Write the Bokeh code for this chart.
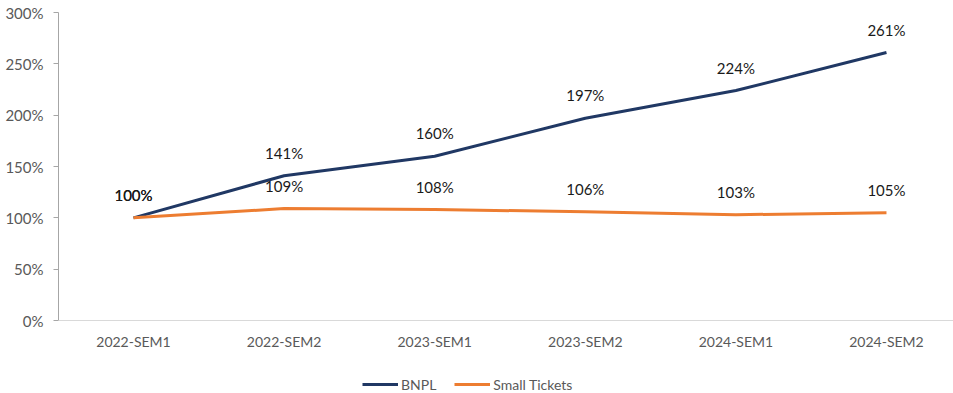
from bokeh.plotting import figure
from bokeh.models import (ColumnDataSource, Range1d, FixedTicker, NumeralTickFormatter,
                          Legend, LegendItem, Span)
from bokeh.core.properties import value
from bokeh.embed import file_html
from bokeh.resources import INLINE

categories = ["2022-SEM1", "2022-SEM2", "2023-SEM1", "2023-SEM2", "2024-SEM1", "2024-SEM2"]
bnpl = [1.00, 1.41, 1.60, 1.97, 2.24, 2.61]
small_tickets = [1.00, 1.09, 1.08, 1.06, 1.03, 1.05]
y_ticks = [0, 0.5, 1.0, 1.5, 2.0, 2.5, 3.0]

FONT = "Lato"
GRAY = "#595959"
NAVY = "#203864"
ORANGE = "#ED7D31"

xs = list(range(len(categories)))
src_b = ColumnDataSource(dict(x=xs, y=bnpl, t=[f"{v*100:.0f}%" for v in bnpl]))
src_s = ColumnDataSource(dict(x=xs, y=small_tickets, t=[f"{v*100:.0f}%" for v in small_tickets]))
src_c = ColumnDataSource(dict(x=xs, y=[0] * len(xs), t=categories))

# frame spans the whole height; the space under y=0 holds category labels and legend
p = figure(width=953, height=393, output_backend="svg", toolbar_location=None,
           x_range=Range1d(-0.498, 5.445), y_range=Range1d(-0.711, 3),
           min_border_left=58, min_border_right=0, min_border_top=12, min_border_bottom=0)
p.outline_line_color = None
p.xgrid.visible = False
p.ygrid.visible = False
p.xaxis.visible = False

# category axis line at y = 0
p.add_layout(Span(location=0, dimension="width", line_color="#D9D9D9", line_width=1))

r_b = p.line("x", "y", source=src_b, line_color=NAVY, line_width=3)
r_s = p.line("x", "y", source=src_s, line_color=ORANGE, line_width=3)

for src in (src_b, src_s):
    p.text("x", "y", text="t", source=src, y_offset=-23, text_align="center",
           text_baseline="middle", text_font=value(FONT), text_font_size="15px",
           text_color="#1a1a1a")

# category labels below the axis line
p.text("x", "y", text="t", source=src_c, y_offset=21, text_align="center",
       text_baseline="middle", text_font=value(FONT), text_font_size="14px",
       text_color=GRAY)

p.yaxis.ticker = FixedTicker(ticks=y_ticks)
p.yaxis.bounds = (0, 3)
p.yaxis.formatter = NumeralTickFormatter(format="0%")
p.yaxis.major_tick_in = 0
p.yaxis.major_tick_out = 5
p.yaxis.major_tick_line_color = "#A6A6A6"
p.yaxis.minor_tick_line_color = None
p.yaxis.axis_line_color = "#A6A6A6"
p.yaxis.major_label_standoff = 10
p.yaxis.major_label_text_font = FONT
p.yaxis.major_label_text_font_size = "15px"
p.yaxis.major_label_text_color = GRAY

legend = Legend(items=[LegendItem(label="BNPL", renderers=[r_b]),
                       LegendItem(label="Small Tickets", renderers=[r_s])],
                orientation="horizontal", location=(304, 0),
                border_line_color=None, background_fill_alpha=0,
                label_text_font=FONT, label_text_font_size="14px",
                label_text_color=GRAY, glyph_width=36, glyph_height=18,
                label_standoff=3, spacing=18, padding=0, margin=0)
p.add_layout(legend, "center")

open("out.html", "w").write(file_html(p, INLINE))
